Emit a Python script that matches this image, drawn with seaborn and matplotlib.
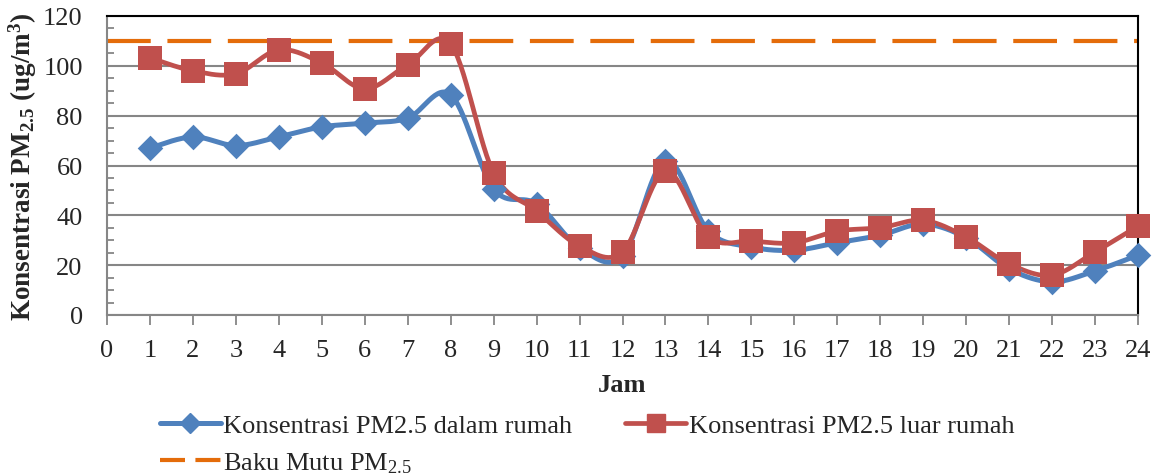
import numpy as np
import pandas as pd
import matplotlib
matplotlib.use("Agg")
import matplotlib.pyplot as plt
from matplotlib.lines import Line2D
import seaborn as sns

# ---- data ----
jam = [1, 2, 3, 4, 5, 6, 7, 8, 9, 10, 11, 12, 13, 14, 15, 16, 17, 18, 19, 20, 21, 22, 23, 24]
dalam_rumah = [67, 71.5, 68, 71.5, 75.5, 77, 79, 88.4, 50.6, 44.6, 27, 23.7, 62, 33.7,
               27.3, 26, 29, 32, 36.5, 31, 18.5, 13.3, 17.7, 24]
luar_rumah = [103.2, 98, 96.8, 106.4, 101.2, 90.8, 100.4, 108.8, 57, 41.8, 27.7, 25.3, 57.8,
              31.3, 29.7, 29, 33.7, 35, 38, 31.3, 20.5, 16, 25.3, 35.7]
baku_mutu = 110
x_ticks = list(range(0, 25))
y_ticks = [0, 20, 40, 60, 80, 100, 120]

label_dalam = "Konsentrasi PM2.5 dalam rumah"
label_luar = "Konsentrasi PM2.5 luar rumah"
label_baku = r"Baku Mutu PM$_{2.5}$"
x_label = "Jam"
y_label = r"Konsentrasi PM$_{\mathbf{2.5}}$ (ug/m$^{\mathbf{3}}$)"

BLUE = "#4F81BD"
RED = "#C0504D"
ORANGE = "#E46C0A"
GRID = "#868686"

sns.set_theme(style="white")
plt.rcParams["font.family"] = ["Liberation Serif", "DejaVu Serif"]
plt.rcParams["mathtext.fontset"] = "custom"
plt.rcParams["mathtext.rm"] = "Liberation Serif"
plt.rcParams["mathtext.it"] = "Liberation Serif:italic"
plt.rcParams["mathtext.bf"] = "Liberation Serif:bold"

FS = 19
FS_Y = 19.5


def smooth(xs, ys, n=30):
    """Catmull-Rom style smoothing (like spreadsheet 'smoothed line')."""
    xs = np.asarray(xs, float)
    ys = np.asarray(ys, float)
    P = np.column_stack([xs, ys])
    out = []
    m = len(P)
    for i in range(m - 1):
        p0 = P[i - 1] if i > 0 else P[i]
        p1 = P[i]
        p2 = P[i + 1]
        p3 = P[i + 2] if i + 2 < m else P[i + 1]
        c1 = p1 + (p2 - p0) / 6.0
        c2 = p2 - (p3 - p1) / 6.0
        t = np.linspace(0, 1, n, endpoint=(i == m - 2))[:, None]
        seg = ((1 - t) ** 3) * p1 + 3 * ((1 - t) ** 2) * t * c1 + 3 * (1 - t) * t ** 2 * c2 + t ** 3 * p2
        out.append(seg)
    out = np.vstack(out)
    return out[:, 0], out[:, 1]


fig = plt.figure(figsize=(11.57, 4.77), dpi=100)
ax = fig.add_axes([107 / 1157, 1 - 316 / 477, (1138 - 107) / 1157, (316 - 17) / 477])

df = pd.DataFrame({"Jam": jam, "dalam": dalam_rumah, "luar": luar_rumah})

# baku mutu line
ax.axhline(baku_mutu, color=ORANGE, lw=3.0, dashes=(10.5, 4), zorder=2, clip_on=False)

# smoothed lines
for col, color, lw in [("dalam", BLUE, 3.6), ("luar", RED, 3.4)]:
    sx, sy = smooth(df["Jam"], df[col])
    sdf = pd.DataFrame({"x": sx, "y": sy})
    sns.lineplot(data=sdf, x="x", y="y", ax=ax, color=color, lw=lw, sort=False,
                 estimator=None, zorder=3, clip_on=False)

sns.scatterplot(data=df, x="Jam", y="dalam", ax=ax, marker="D", s=170, color=BLUE,
                edgecolor=BLUE, linewidth=0, zorder=4, clip_on=False)
sns.scatterplot(data=df, x="Jam", y="luar", ax=ax, marker="s", s=300, color=RED,
                edgecolor=RED, linewidth=0, zorder=5, clip_on=False)

ax.set_xlim(0, 24)
ax.set_ylim(0, 120)
ax.set_xticks(x_ticks)
ax.set_yticks(y_ticks)
ax.set_yticks(np.arange(0, 121, 5), minor=True)
ax.set_xticklabels([str(t) for t in x_ticks], fontsize=FS)
ax.set_yticklabels([str(t) for t in y_ticks], fontsize=FS)
ax.grid(axis="y", which="major", color=GRID, lw=1.5)
ax.set_axisbelow(True)

ax.tick_params(axis="x", which="major", direction="out", length=7, width=1.3,
               color=GRID, pad=10, bottom=True)
ax.tick_params(axis="y", which="major", direction="in", length=5, width=1.3,
               color=GRID, pad=17.5, left=True)
ax.tick_params(axis="y", which="minor", direction="in", length=5, width=1.3,
               color=GRID, left=True)
ax.tick_params(axis="x", which="minor", bottom=False)

for side in ["left", "bottom"]:
    ax.spines[side].set_color(GRID)
    ax.spines[side].set_linewidth(1.5)
for side in ["top", "right"]:
    ax.spines[side].set_color("black")
    ax.spines[side].set_linewidth(1.5)

ax.set_xlabel(x_label, fontsize=FS, fontweight="bold", labelpad=9)
ax.set_ylabel(y_label, fontsize=FS_Y, fontweight="bold", labelpad=3)

h_dalam = Line2D([], [], color=BLUE, lw=3.6, marker="D", markersize=10)
h_luar = Line2D([], [], color=RED, lw=3.4, marker="s", markersize=13)
h_baku = Line2D([], [], color=ORANGE, lw=3.0, dashes=(6, 2.5))
fig.legend([h_dalam, h_baku, h_luar], [label_dalam, label_baku, label_luar],
           ncol=2, loc="upper left", bbox_to_anchor=(160 / 1157, 1 - 415 / 477),
           frameon=False, fontsize=FS, handlelength=2.3, handletextpad=0.1,
           columnspacing=2.0, labelspacing=0.5, borderaxespad=0, borderpad=0)

fig.savefig("out.png", dpi=100)
